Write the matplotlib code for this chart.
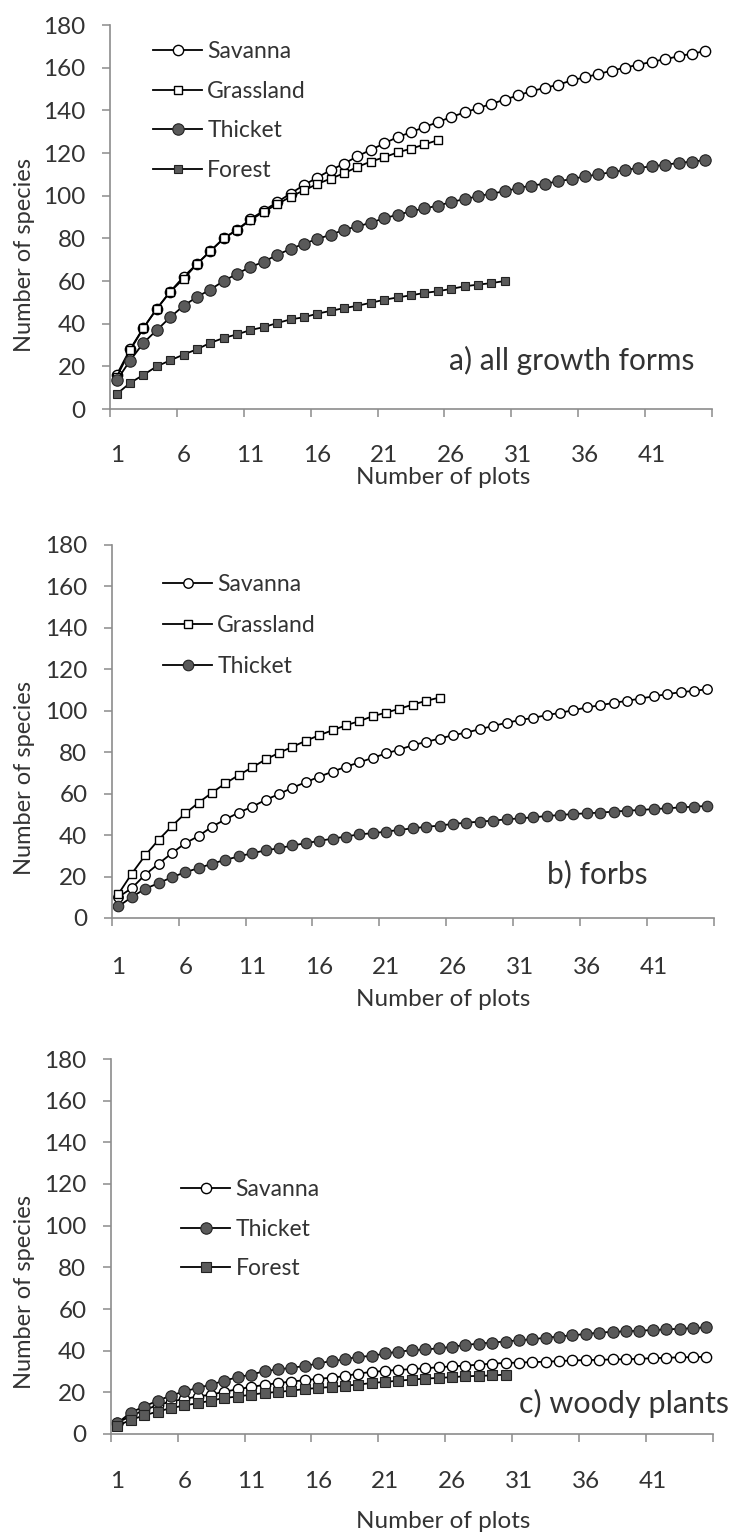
import numpy as np
import matplotlib
matplotlib.use("Agg")
import matplotlib.pyplot as plt

plt.rcParams['font.family'] = ['Lato', 'DejaVu Sans']

# ---- data (species accumulation) ----
plots_n = np.arange(1, 46)
tick_labels = ['1', '6', '11', '16', '21', '26', '31', '36', '41']

# a) all growth forms
a_savanna = [16, 28, 38, 47, 55, 62, 68, 74, 80, 84, 89, 93, 97, 101, 105,
             108.5, 112, 115, 118.5, 121.5, 124.5, 127.5, 129.7, 132.2, 134.4,
             136.9, 139, 141, 143, 145, 147, 149, 150.5, 152, 154, 155.5, 157,
             158.6, 160, 161.4, 162.7, 164, 165.3, 166.6, 167.7]
a_grassland = [15, 27.5, 38, 47, 55, 61, 68, 74, 80, 84, 88.5, 92.5, 96, 99.5,
               102.5, 105.5, 108, 110.5, 113.5, 116, 118, 120.3, 122, 124, 126]
a_thicket = [13.4, 22.7, 31, 37, 43, 48.4, 52.5, 56, 60, 63.4, 66.6, 69, 72.3,
             75, 77.5, 79.7, 81.7, 84, 85.6, 87.3, 89.5, 91, 92.7, 94, 95.3, 97,
             98.4, 99.7, 101, 102, 103.6, 104.7, 105.6, 106.7, 107.8, 109, 110,
             111, 112, 113, 113.75, 114.5, 115.3, 116, 116.6]
a_forest = [7, 12.2, 16, 20, 22.8, 25.5, 28, 31, 33.3, 35, 37, 38.4, 40.3, 42,
            43, 44.7, 46, 47.3, 48.4, 49.8, 51.2, 52.3, 53.3, 54.4, 55.2, 56.3,
            57.5, 58.3, 59, 60]

# b) forbs
b_savanna = [10.1, 14.4, 20.9, 26.2, 31.3, 36.1, 39.6, 44.1, 47.6, 50.9, 53.7,
             57, 59.8, 62.9, 65.5, 68.2, 70.6, 73, 75.1, 77.3, 79.4, 81.3, 83.4,
             85, 86.6, 88.2, 89.5, 91.1, 92.7, 94.2, 95.5, 96.6, 97.9, 99, 100.3,
             101.6, 102.7, 103.8, 104.8, 105.9, 107, 108, 109, 109.6, 110.4]
b_grassland = [11.6, 21.4, 30.2, 37.7, 44.4, 50.5, 55.7, 60.5, 65, 69, 72.7,
               76.5, 79.7, 82.6, 85.5, 88.2, 90.6, 93, 95, 97.4, 99.1, 101, 103,
               104.8, 106.4]
b_thicket = [5.6, 10.1, 14.1, 16.8, 19.7, 22.1, 24.1, 26.2, 28.1, 29.7, 31.3,
             32.6, 33.7, 35, 36.1, 37.2, 38.3, 39.3, 40.4, 40.9, 41.7, 42.5,
             43.3, 44, 44.6, 45.4, 46, 46.5, 47, 47.6, 48.1, 48.6, 49.2, 49.7,
             50.2, 50.5, 50.9, 51.3, 51.8, 52.1, 52.6, 52.9, 53.4, 53.7, 54.1]

# c) woody plants
c_savanna = [5.5, 8.5, 11.5, 13.8, 15.6, 16.8, 18, 18.9, 20.3, 21.5, 22.6, 23.6,
             24.4, 25.2, 25.8, 26.5, 27, 27.8, 29, 29.8, 30.3, 30.8, 31.1, 31.6,
             32, 32.5, 32.8, 33.3, 33.8, 34.1, 34.3, 34.5, 34.7, 35, 35.3, 35.5,
             35.6, 35.8, 35.9, 36.1, 36.4, 36.6, 36.8, 36.9, 37.1]
c_thicket = [5.2, 10.3, 13.2, 16, 18.4, 20.5, 22.1, 23.7, 25.6, 27.3, 28.5,
             30.2, 31, 31.8, 32.6, 33.9, 35, 35.8, 37.1, 37.4, 38.7, 39.5, 40.2,
             40.6, 41.1, 41.9, 42.7, 43.4, 43.9, 44.4, 45, 45.5, 46.2, 46.8, 47.4,
             48, 48.7, 49, 49.3, 49.6, 49.9, 50.2, 50.5, 50.8, 51.2]
c_forest = [3.9, 6.8, 8.9, 10.8, 12.4, 13.7, 14.8, 16, 17.3, 18, 18.9, 19.7,
            20.2, 20.8, 21.6, 22.1, 22.6, 23.2, 23.7, 24.5, 25, 25.6, 26.1,
            26.6, 26.9, 27.3, 27.7, 27.9, 28.1, 28.5]

W, H = 737, 1535
DARK = '#5a5a5a'
TXT = '#333333'
AX = '#8c8c8c'

fig = plt.figure(figsize=(W / 100, H / 100), dpi=100)


def px_axes(left, top, right, bottom):
    # pixel box -> figure axes
    return fig.add_axes([left / W, 1 - bottom / H, (right - left) / W, (bottom - top) / H])


def style(ax, pad):
    ax.set_xlim(0.5, 45.5)
    ax.set_ylim(0, 180)
    ax.set_yticks(range(0, 181, 20))
    ax.set_xticks(np.arange(0.5, 46, 5))
    ax.set_xticklabels([])
    ax.set_xticks(plots_n[::5], tick_labels, minor=True)
    for s in ['top', 'right']:
        ax.spines[s].set_visible(False)
    for s in ['left', 'bottom']:
        ax.spines[s].set_color(AX)
        ax.spines[s].set_linewidth(1.2)
    ax.tick_params(which='major', direction='out', length=5.5, width=1.1,
                   color=AX, labelsize=17.5, labelcolor=TXT)
    ax.tick_params(axis='y', pad=12)
    ax.tick_params(axis='x', which='minor', length=0, pad=pad,
                   labelsize=17.5, labelcolor=TXT)


def series(ax, y, kind, ms, label):
    x = plots_n[:len(y)]
    if kind == 'open_circle':
        ax.plot(x, y, '-o', color='black', lw=1.3, ms=ms, mfc='white',
                mec='black', mew=1.0, label=label, clip_on=False)
    elif kind == 'open_square':
        ax.plot(x, y, '-s', color='black', lw=1.3, ms=ms, mfc='white',
                mec='black', mew=1.0, label=label, clip_on=False)
    elif kind == 'dark_circle':
        ax.plot(x, y, '-o', color='black', lw=1.3, ms=ms, mfc=DARK,
                mec='#222222', mew=0.8, label=label, clip_on=False)
    else:
        ax.plot(x, y, '-s', color='black', lw=1.3, ms=ms, mfc=DARK,
                mec='#222222', mew=0.8, label=label, clip_on=False)


def legend(ax, x, y, spacing):
    ax.legend(loc='upper left', bbox_to_anchor=(x, y), frameon=False,
              fontsize=16.5, handlelength=2.15, handletextpad=0.22,
              labelspacing=spacing, borderpad=0, borderaxespad=0,
              labelcolor=TXT)


# ---- panel a ----
ax1 = px_axes(110, 25, 712, 409)
style(ax1, 26)
series(ax1, a_savanna, 'open_circle', 7.4, 'Savanna')
series(ax1, a_grassland, 'open_square', 5.8, 'Grassland')
series(ax1, a_thicket, 'dark_circle', 8.2, 'Thicket')
series(ax1, a_forest, 'dark_square', 5.8, 'Forest')
legend(ax1, 0.0714, 0.958, 0.81)
ax1.text(35, 22.8, 'a) all growth forms', fontsize=21.5, color=TXT,
         ha='center', va='center')

# ---- panel b ----
ax2 = px_axes(111.7, 545, 714, 918)
style(ax2, 28)
series(ax2, b_savanna, 'open_circle', 6.8, 'Savanna')
series(ax2, b_grassland, 'open_square', 6.4, 'Grassland')
series(ax2, b_thicket, 'dark_circle', 7.6, 'Thicket')
legend(ax2, 0.085, 0.922, 0.88)
ax2.text(36.8, 21, 'b) forbs', fontsize=21.5, color=TXT, ha='center', va='center')

# ---- panel c ----
ax3 = px_axes(110.7, 1059, 713, 1434)
style(ax3, 27)
series(ax3, c_savanna, 'open_circle', 7.4, 'Savanna')
series(ax3, c_thicket, 'dark_circle', 8.2, 'Thicket')
series(ax3, c_forest, 'dark_square', 7.6, 'Forest')
legend(ax3, 0.117, 0.68, 0.81)
ax3.text(46.7, 14.9, 'c) woody plants', fontsize=22, color=TXT,
         ha='right', va='center', clip_on=False)

# axis titles placed in pixels
for yc in [255, 778, 1292]:
    fig.text(25 / W, 1 - yc / H, 'Number of species', rotation=90, fontsize=17,
             color=TXT, ha='center', va='center')
for yc in [478, 1000, 1522]:
    fig.text(443 / W, 1 - yc / H, 'Number of plots', fontsize=17.5,
             color=TXT, ha='center', va='center')

fig.savefig('out.png', dpi=100, facecolor='white')
